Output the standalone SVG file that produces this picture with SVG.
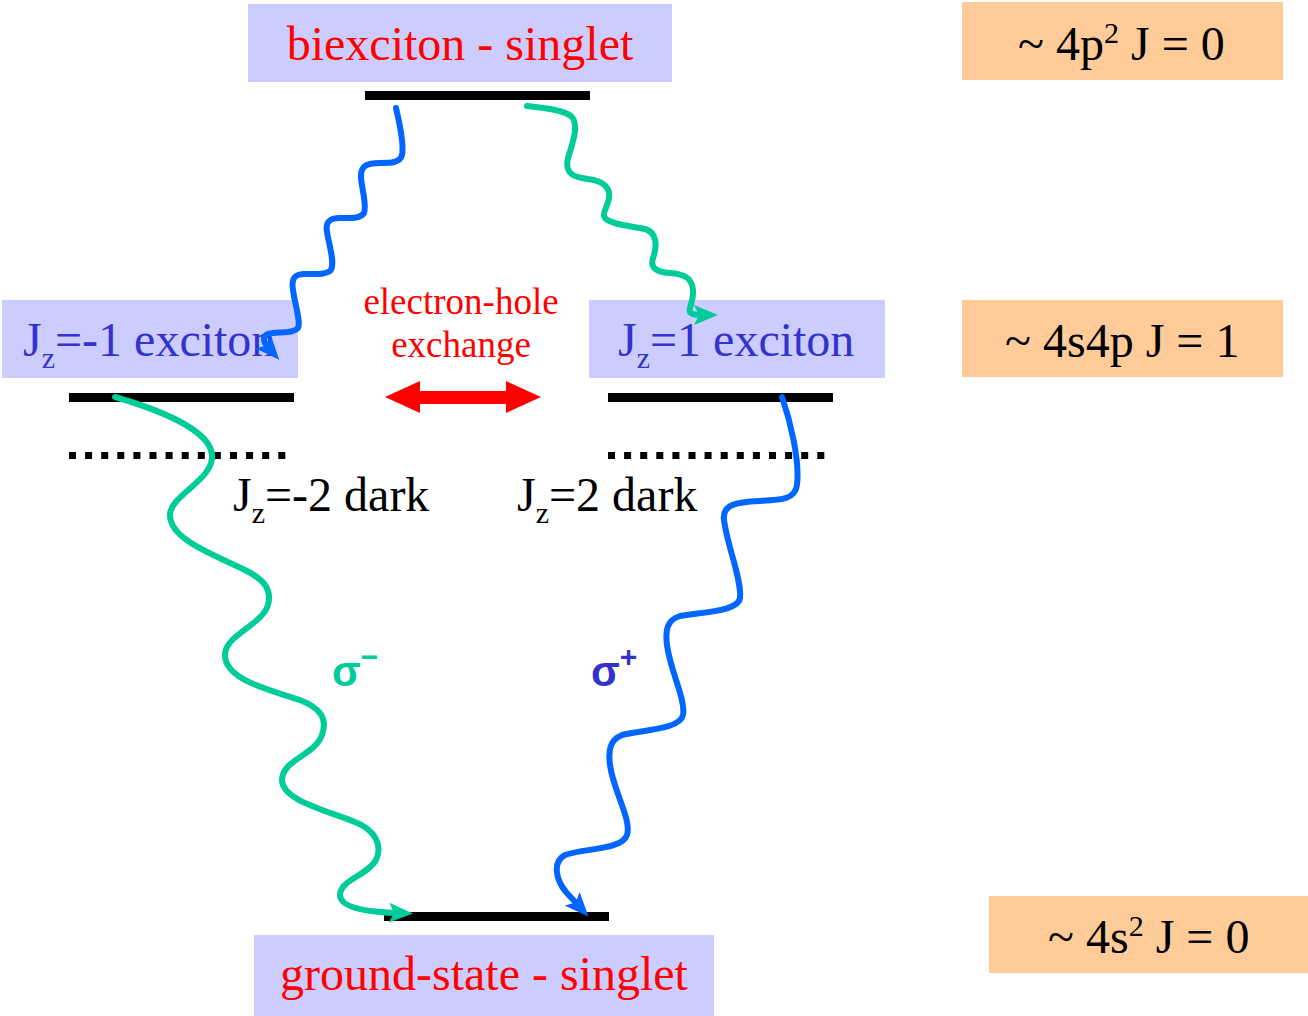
<svg xmlns="http://www.w3.org/2000/svg" width="1308" height="1016" viewBox="0 0 1308 1016">
<defs>
<style>
.lav{fill:#CCCCFF}
.org{fill:#FFCC99}
.bar{fill:#000}
.t{font-family:"Liberation Serif","Times New Roman",serif;font-size:48px}
.red{fill:#FF0000}
.blu{fill:#3333CC}
.blk{fill:#000}
.sub{font-size:30px}
.sup{font-size:30px}
.dots{stroke:#000;stroke-width:7;stroke-dasharray:7 9.1;fill:none}
.wb{fill:none;stroke:#0066FF;stroke-width:6;stroke-linecap:round;stroke-linejoin:round}
.wg{fill:none;stroke:#00CC99;stroke-width:6;stroke-linecap:round;stroke-linejoin:round}
.sig{font-family:"Liberation Sans",Arial,sans-serif;font-weight:bold;font-size:42px}
</style>
<marker id="ab" markerUnits="userSpaceOnUse" viewBox="0 0 24 20" refX="7" refY="10" markerWidth="24" markerHeight="20" orient="auto">
<path d="M0,0 L24,10 L0,20 L5,10 z" fill="#0066FF"/>
</marker>
<marker id="ag" markerUnits="userSpaceOnUse" viewBox="0 0 24 20" refX="7" refY="10" markerWidth="24" markerHeight="20" orient="auto">
<path d="M0,0 L24,10 L0,20 L5,10 z" fill="#00CC99"/>
</marker>
</defs>
<rect width="1308" height="1016" fill="#fff"/>

<g id="biexciton">
<rect class="lav" x="248" y="4" width="424" height="78"/>
<text class="t red" x="460" y="60" text-anchor="middle">biexciton - singlet</text>
<rect class="bar" x="365" y="91" width="225" height="9"/>
</g>

<g id="exciton-minus">
<rect class="lav" x="2" y="300" width="296" height="78"/>
<text class="t blu" x="23" y="356">J<tspan class="sub" dy="12">z</tspan><tspan dy="-12">=-1 exciton</tspan></text>
<rect class="bar" x="69" y="393" width="225" height="9"/>
</g>

<g id="exciton-plus">
<rect class="lav" x="589" y="300" width="296" height="78"/>
<text class="t blu" x="618" y="356">J<tspan class="sub" dy="12">z</tspan><tspan dy="-12">=1 exciton</tspan></text>
<rect class="bar" x="608" y="393" width="225" height="9"/>
</g>

<g id="dark-minus">
<line class="dots" x1="69" y1="455.5" x2="290" y2="455.5"/>
<text class="t blk" x="233" y="511">J<tspan class="sub" dy="12">z</tspan><tspan dy="-12">=-2 dark</tspan></text>
</g>

<g id="dark-plus">
<line class="dots" x1="608" y1="455.5" x2="829" y2="455.5"/>
<text class="t blk" x="517" y="511">J<tspan class="sub" dy="12">z</tspan><tspan dy="-12">=2 dark</tspan></text>
</g>

<g id="ground">
<rect class="bar" x="384" y="912" width="225" height="9"/>
<rect class="lav" x="254" y="935" width="460" height="81"/>
<text class="t red" x="484" y="990" text-anchor="middle">ground-state - singlet</text>
</g>

<g id="exchange">
<text class="t red" style="font-size:37px" x="461" y="314" text-anchor="middle">electron-hole</text>
<text class="t red" style="font-size:37px" x="461" y="357" text-anchor="middle">exchange</text>
<path d="M385,397 L420,381 L420,391 L506,391 L506,381 L541,397 L506,413 L506,404 L420,404 L420,413 z" fill="#FF0000"/>
</g>

<g id="label-4p2">
<rect class="org" x="962" y="2" width="321" height="78"/>
<text class="t blk" x="1018" y="60">~ 4p<tspan class="sup" dy="-17">2</tspan><tspan dy="17"> J = 0</tspan></text>
</g>
<g id="label-4s4p">
<rect class="org" x="962" y="300" width="321" height="77"/>
<text class="t blk" x="1005" y="357">~ 4s4p J = 1</text>
</g>
<g id="label-4s2">
<rect class="org" x="989" y="896" width="319" height="77"/>
<text class="t blk" x="1048" y="953">~ 4s<tspan class="sup" dy="-17">2</tspan><tspan dy="17"> J = 0</tspan></text>
</g>

<g id="connectors">
<path class="wb" marker-end="url(#ab)" d="M396,108 C400,125 404,145 402,155 C400,163 390,163 380,163 C368,163 360,165 361,178 C362,190 367,205 364,213 C360,219 350,218 340,218 C330,218 325,222 327,232 C329,245 335,262 331,270 C327,275 315,274 305,274 C295,274 291,278 293,290 C295,305 301,322 298,328 C294,333 283,332 273,333 C263,334 261,339 268,347"/>
<path class="wg" marker-end="url(#ag)" d="M527,106 C545,108 563,110 571,116 C580,124 572,145 568,158 C565,170 570,176 582,178 C596,180 606,182 609,192 C611,202 603,210 604,216 C606,224 630,226 645,229 C656,232 658,245 653,258 C650,268 656,272 670,273 C684,274 692,278 693,290 C694,302 688,308 690,312 C692,315 696,315 701,315"/>
<path class="wg" marker-end="url(#ag)" d="M115,397 C160,410 210,430 212,455 C214,480 170,495 170,515 C170,540 215,555 245,570 C265,580 272,590 268,605 C262,625 225,635 225,655 C225,680 270,690 300,700 C320,708 328,718 322,735 C315,755 282,760 282,780 C282,800 325,810 355,822 C375,830 383,845 376,860 C368,875 340,880 340,895 C340,908 368,912 396,913"/>
<path class="wb" marker-end="url(#ab)" d="M782,397 C790,420 800,460 797,485 C795,500 780,500 760,501 C735,502 722,505 724,520 C727,545 742,580 740,598 C738,612 700,612 680,616 C667,620 665,630 667,645 C670,670 686,700 683,715 C680,730 640,730 622,735 C610,740 608,750 610,765 C613,790 632,820 627,835 C622,850 585,848 565,855 C552,862 556,880 566,892 L577,904"/>
<text class="sig" x="332" y="686" fill="#00CC99">σ<tspan dy="-19" font-size="30">−</tspan></text>
<text class="sig" x="591" y="686" fill="#3333CC">σ<tspan dy="-19" font-size="30">+</tspan></text>
</g>
</svg>
